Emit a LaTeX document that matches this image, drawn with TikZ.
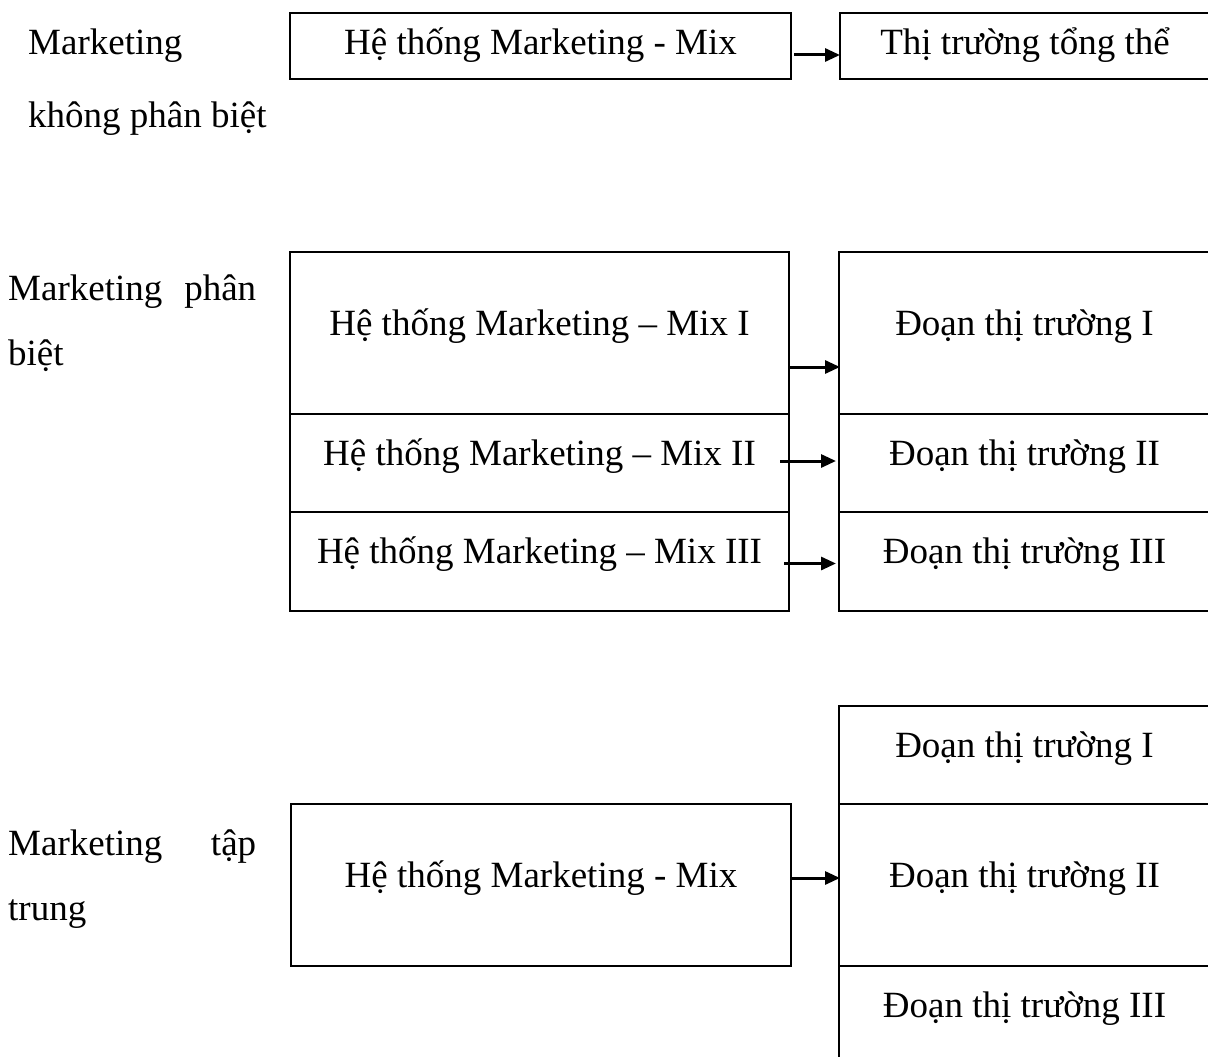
\documentclass[tikz,border=0pt]{standalone}
\usepackage{fontspec}
\setmainfont{Liberation Serif}
\usetikzlibrary{arrows.meta, positioning, calc}

\begin{document}
\begin{tikzpicture}[
    x=1pt, y=-1pt,
    font=\fontsize{37}{44}\selectfont,
    box/.style={draw, line width=1.6pt, rectangle, inner sep=0pt, outer sep=0pt,
                minimum width=499pt, align=center, text height=27.75pt,
                text depth=23.75pt},
    seg/.style={box, minimum width=371pt},
    lbl/.style={anchor=base west, inner sep=0pt},
    a/.style={line width=3pt, -{Triangle[length=15pt, width=13pt]}},
  ]
  \useasboundingbox (0,0) rectangle (1208,1057);
  \clip (0,0) rectangle (1208,1057);

  % ---- Marketing khong phan biet ----
  \node[lbl] (l1a) at (28,55) {Marketing};
  \node[lbl] (l1b) at (28,127) {không phân biệt};
  \node[box, minimum width=501pt, minimum height=66pt, text depth=9.75pt,
        anchor=north west] (mix0) at (290,13) {Hệ thống Marketing - Mix};
  \node[seg, minimum width=370pt, minimum height=66pt, text depth=9.75pt,
        anchor=north west] (tt0) at (840,13) {Thị trường tổng thể};

  % ---- Marketing phan biet ----
  \node[lbl] (l2a) at (8,300) {\makebox[248pt][s]{Marketing phân}};
  \node[lbl] (l2b) at (8,365) {biệt};
  \node[box, minimum height=162pt, anchor=north west]
    (mix1) at (290,252) {Hệ thống Marketing – Mix I};
  \node[box, minimum height=98pt, below=0pt of mix1] (mix2) {Hệ thống Marketing – Mix II};
  \node[box, minimum height=99pt, below=0pt of mix2] (mix3) {Hệ thống Marketing – Mix III};
  \node[seg, minimum height=162pt, anchor=north west]
    (seg1) at (839,252) {Đoạn thị trường I};
  \node[seg, minimum height=98pt, below=0pt of seg1] (seg2) {Đoạn thị trường II};
  \node[seg, minimum height=99pt, below=0pt of seg2] (seg3) {Đoạn thị trường III};

  % ---- Marketing tap trung ----
  \node[lbl] (l3a) at (8,855) {\makebox[248pt][s]{Marketing tập}};
  \node[lbl] (l3b) at (8,920) {trung};
  \node[box, minimum width=500pt, minimum height=162pt, anchor=north west]
    (mix4) at (291,804) {Hệ thống Marketing - Mix};
  \node[seg, minimum height=98pt, anchor=north west]
    (seg4) at (839,706) {Đoạn thị trường I};
  \node[seg, minimum height=162pt, below=0pt of seg4] (seg5) {Đoạn thị trường II};
  \node[seg, minimum height=98pt, below=0pt of seg5] (seg6) {Đoạn thị trường III};

  % ---- arrows ----
  \draw[a] ($(mix0.east)+(3,9)$) -- ($(tt0.west)+(0,9)$);
  \draw[a] ($(mix1.east)+(0,34)$) -- ($(seg1.west)+(1,34)$);
  \draw[a] ($(mix2.east)+(-9,-2)$) -- ($(seg2.west)+(-3,-2)$);
  \draw[a] ($(mix3.east)+(-5,2)$) -- ($(seg3.west)+(-3,2)$);
  \draw[a] ($(mix4.east)+(0,-7)$) -- ($(seg5.west)+(1,-7)$);
\end{tikzpicture}
\end{document}
